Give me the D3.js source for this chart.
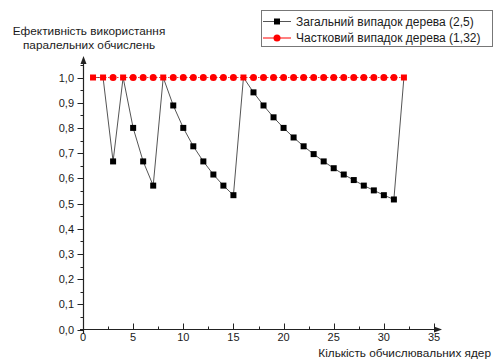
<!DOCTYPE html>
<html>
<head>
<meta charset="UTF-8">
<script src="https://d3js.org/d3.v7.min.js"></script>
<style>
  body { margin: 0; background: #fff; font-family: "Liberation Sans", Arial, sans-serif; }
  text { fill: #1a1a1a; }
</style>
</head>
<body>
<div id="chart"></div>
<script>
// cores and efficiency values
const cores = [1, 2, 3, 4, 5, 6, 7, 8, 9, 10, 11, 12, 13, 14, 15, 16,
  17, 18, 19, 20, 21, 22, 23, 24, 25, 26, 27, 28, 29, 30, 31, 32];
const generalTree = [1.0, 1.0, 0.667, 1.0, 0.8, 0.667, 0.571, 1.0,
  0.889, 0.8, 0.727, 0.667, 0.615, 0.571, 0.533, 1.0,
  0.941, 0.889, 0.842, 0.8, 0.762, 0.727, 0.696, 0.667,
  0.64, 0.615, 0.593, 0.571, 0.552, 0.533, 0.516, 1.0];
const partialTree = [1.0, 1.0, 1.0, 1.0, 1.0, 1.0, 1.0, 1.0,
  1.0, 1.0, 1.0, 1.0, 1.0, 1.0, 1.0, 1.0,
  1.0, 1.0, 1.0, 1.0, 1.0, 1.0, 1.0, 1.0,
  1.0, 1.0, 1.0, 1.0, 1.0, 1.0, 1.0, 1.0];
const seriesNames = ['Загальний випадок дерева (2,5)', 'Частковий випадок дерева (1,32)'];
const xTicks = [0, 5, 10, 15, 20, 25, 30, 35];
const yTicks = [0, 0.1, 0.2, 0.3, 0.4, 0.5, 0.6, 0.7, 0.8, 0.9, 1.0];
const yLabel = ['Ефективність використання', 'паралельних обчислень'];
const xLabel = 'Кількість обчислювальних ядер';

const W = 494, H = 362;
const svg = d3.select('#chart').append('svg').attr('width', W).attr('height', H);

const x = d3.scaleLinear().domain([0, 35]).range([83, 434]);
const y = d3.scaleLinear().domain([0, 1]).range([329.5, 77.5]);
const fmt = d => d3.format('.1f')(d).replace('.', ',');

// y axis line with arrow
svg.append('path').attr('d', `M83.5,334 V60`).attr('stroke', '#222').attr('stroke-width', 1.2);
svg.append('path').attr('d', `M80.5,64 L83.5,56 L86.5,64 Z`).attr('fill', '#222');
// x axis line with arrow
svg.append('path').attr('d', `M80,329.5 H436`).attr('stroke', '#222').attr('stroke-width', 1.2);
svg.append('path').attr('d', `M434,326.5 L442,329.5 L434,332.5 Z`).attr('fill', '#222');

// y ticks (outward) + minor
const yMinor = d3.range(0, 1.06, 0.05);
svg.selectAll('.ymin').data(yMinor).enter().append('line')
  .attr('x1', 80.5).attr('x2', 83.5)
  .attr('y1', d => Math.round(y(d)) + 0.5).attr('y2', d => Math.round(y(d)) + 0.5)
  .attr('stroke', '#222');
svg.selectAll('.ymaj').data(yTicks).enter().append('line')
  .attr('x1', 77.5).attr('x2', 83.5)
  .attr('y1', d => Math.round(y(d)) + 0.5).attr('y2', d => Math.round(y(d)) + 0.5)
  .attr('stroke', '#222');
svg.selectAll('.ylab').data(yTicks).enter().append('text')
  .attr('x', 74).attr('y', d => y(d) + 4)
  .attr('text-anchor', 'end').attr('font-size', 11)
  .text(fmt);

// x ticks (inward) + minor
const xMinor = d3.range(2.5, 35, 5);
svg.selectAll('.xmin').data(xMinor).enter().append('line')
  .attr('x1', d => Math.round(x(d)) + 0.5).attr('x2', d => Math.round(x(d)) + 0.5)
  .attr('y1', 329.5).attr('y2', 326.5).attr('stroke', '#222');
svg.selectAll('.xmaj').data(xTicks.filter(d => d > 0)).enter().append('line')
  .attr('x1', d => Math.round(x(d)) + 0.5).attr('x2', d => Math.round(x(d)) + 0.5)
  .attr('y1', 329.5).attr('y2', 323.5).attr('stroke', '#222');
svg.selectAll('.xlab').data(xTicks).enter().append('text')
  .attr('x', d => x(d)).attr('y', 341)
  .attr('text-anchor', 'middle').attr('font-size', 11)
  .text(d => d);

// axis titles
svg.append('text').attr('x', 89).attr('y', 34.5).attr('text-anchor', 'middle')
  .attr('font-size', 11.8).text(yLabel[0]);
svg.append('text').attr('x', 89).attr('y', 48.5).attr('text-anchor', 'middle')
  .attr('font-size', 11.8).text(yLabel[1]);
svg.append('text').attr('x', 491).attr('y', 357).attr('text-anchor', 'end')
  .attr('font-size', 11.8).text(xLabel);

// series 1: general tree
const genData = cores.map((c, i) => [c, generalTree[i]]);
const line = d3.line().x(d => x(d[0])).y(d => y(d[1]));
svg.append('path').datum(genData).attr('d', line)
  .attr('fill', 'none').attr('stroke', '#555').attr('stroke-width', 1);

// series 2: partial tree
const partData = cores.map((c, i) => [c, partialTree[i]]);
svg.append('path').datum(partData).attr('d', line)
  .attr('fill', 'none').attr('stroke', '#ff3030').attr('stroke-width', 1)
  .attr('stroke-dasharray', '1.5,1.5');

svg.selectAll('.gen').data(genData).enter().append('rect')
  .attr('x', d => x(d[0]) - 3).attr('y', d => y(d[1]) - 3)
  .attr('width', 6).attr('height', 6)
  .attr('fill', d => d[1] === 1 ? '#f00' : '#000');
svg.selectAll('.part').data(partData.filter((d, i) => generalTree[i] !== 1)).enter().append('circle')
  .attr('cx', d => x(d[0])).attr('cy', d => y(d[1])).attr('r', 3.5)
  .attr('fill', '#f00');

// legend
const lg = svg.append('g');
lg.append('rect').attr('x', 261.5).attr('y', 10.5).attr('width', 231).attr('height', 36)
  .attr('fill', '#fff').attr('stroke', '#777').attr('stroke-width', 1);
const legendRows = [
  { name: seriesNames[0], color: '#000', line: '#555', shape: 'square' },
  { name: seriesNames[1], color: '#f00', line: '#f00', shape: 'circle' }
];
legendRows.forEach((r, i) => {
  const cy = 21.5 + i * 16.5;
  lg.append('line').attr('x1', 263).attr('x2', 291).attr('y1', cy).attr('y2', cy)
    .attr('stroke', r.line).attr('stroke-width', 1);
  if (r.shape === 'square') {
    lg.append('rect').attr('x', 274).attr('y', cy - 3).attr('width', 6).attr('height', 6).attr('fill', r.color);
  } else {
    lg.append('circle').attr('cx', 277).attr('cy', cy).attr('r', 3.5).attr('fill', r.color);
  }
  lg.append('text').attr('x', 296).attr('y', cy + 4.3).attr('font-size', 12).text(r.name);
});
</script>
</body>
</html>
